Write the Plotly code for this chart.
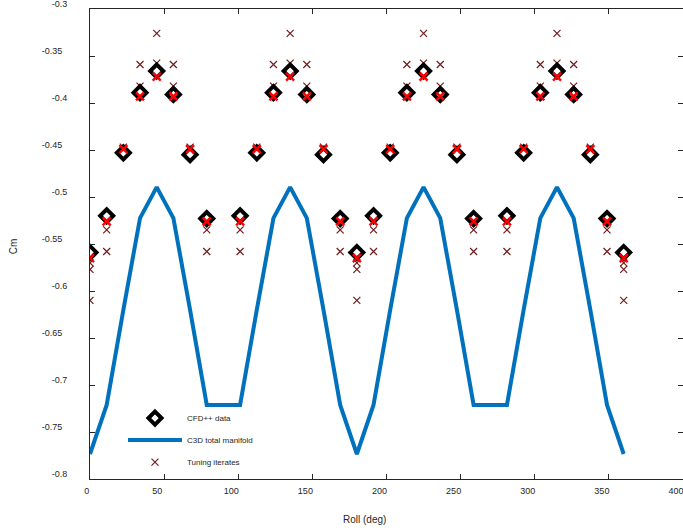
import plotly.graph_objects as go

# ---------------- data ----------------
manifold_roll = [0, 11.25, 22.5, 33.75, 45, 56.25, 67.5, 78.75, 90, 101.25, 112.5, 123.75,
                 135, 146.25, 157.5, 168.75, 180, 191.25, 202.5, 213.75, 225, 236.25, 247.5,
                 258.75, 270, 281.25, 292.5, 303.75, 315, 326.25, 337.5, 348.75, 360]
manifold_cm = [-0.7734, -0.7212, -0.620, -0.5225, -0.4895, -0.5225, -0.620, -0.7212, -0.7212,
               -0.7212, -0.620, -0.5225, -0.4895, -0.5225, -0.620, -0.7212, -0.7734, -0.7212,
               -0.620, -0.5225, -0.4895, -0.5225, -0.620, -0.7212, -0.7212, -0.7212, -0.620,
               -0.5225, -0.4895, -0.5225, -0.620, -0.7212, -0.7734]

cfd_roll = [0, 11.25, 22.5, 33.75, 45, 56.25, 67.5, 78.75, 101.25, 112.5, 123.75, 135, 146.25,
            157.5, 168.75, 180, 191.25, 202.5, 213.75, 225, 236.25, 247.5, 258.75, 281.25,
            292.5, 303.75, 315, 326.25, 337.5, 348.75, 360]
cfd_cm = [-0.559, -0.520, -0.453, -0.389, -0.366, -0.391, -0.455, -0.523, -0.520, -0.453,
          -0.389, -0.366, -0.391, -0.455, -0.523, -0.559, -0.520, -0.453, -0.389, -0.366,
          -0.391, -0.455, -0.523, -0.520, -0.453, -0.389, -0.366, -0.391, -0.455, -0.523, -0.559]

final_cm = [-0.565, -0.526, -0.449, -0.393, -0.372, -0.393, -0.449, -0.526, -0.526, -0.449,
            -0.393, -0.372, -0.393, -0.449, -0.526, -0.565, -0.526, -0.449, -0.393, -0.372,
            -0.393, -0.449, -0.526, -0.526, -0.449, -0.393, -0.372, -0.393, -0.449, -0.526, -0.565]

iter_roll = [0, 0, 0,
             11.25, 11.25, 22.5, 33.75, 33.75, 45, 45, 56.25, 56.25, 67.5, 78.75, 78.75,
             101.25, 101.25, 112.5, 123.75, 123.75, 135, 135, 146.25, 146.25, 157.5, 168.75, 168.75,
             180, 180, 180,
             191.25, 191.25, 202.5, 213.75, 213.75, 225, 225, 236.25, 236.25, 247.5, 258.75, 258.75,
             281.25, 281.25, 292.5, 303.75, 303.75, 315, 315, 326.25, 326.25, 337.5, 348.75, 348.75,
             360, 360, 360]
iter_cm = [-0.570, -0.577, -0.610,
           -0.535, -0.558, -0.447, -0.359, -0.382, -0.326, -0.3575, -0.359, -0.382, -0.447, -0.535, -0.558,
           -0.535, -0.558, -0.447, -0.359, -0.382, -0.326, -0.3575, -0.359, -0.382, -0.447, -0.535, -0.558,
           -0.570, -0.577, -0.610,
           -0.535, -0.558, -0.447, -0.359, -0.382, -0.326, -0.3575, -0.359, -0.382, -0.447, -0.535, -0.558,
           -0.535, -0.558, -0.447, -0.359, -0.382, -0.326, -0.3575, -0.359, -0.382, -0.447, -0.535, -0.558,
           -0.570, -0.577, -0.610]

x_ticks = [0, 50, 100, 150, 200, 250, 300, 350, 400]
x_ticktext = ["\u00a0\u00a0\u00a00", "50", "100", "150", "200", "250", "300", "350", "400"]
y_ticks = [-0.8, -0.75, -0.7, -0.65, -0.6, -0.55, -0.5, -0.45, -0.4, -0.35, -0.3]
y_ticktext = ["-0.8", "-0.75", "-0.7", "-0.65", "-0.6", "-0.55", "-0.5", "-0.45", "-0.4", "-0.35", "-0.3"]

# ---------------- styles ----------------
FONT = "Liberation Sans, Arial, sans-serif"
TXT = "#262626"
BLUE = "#0072BD"
DARKRED = "#701c1c"
RED = "#ff0000"

y_ticktext_padded = [t + "\u00a0\u00a0" if len(t.split(".")[1]) == 2 else t for t in y_ticktext]

fig = go.Figure()

fig.add_trace(go.Scatter(
    x=iter_roll, y=iter_cm, mode="markers", name="Tuning iterates",
    marker=dict(symbol="x-thin", size=7, line=dict(color=DARKRED, width=1.2), color=DARKRED),
    legendrank=3, legendgroup="c"))

fig.add_trace(go.Scatter(
    x=manifold_roll, y=manifold_cm, mode="lines", name="C3D total manifold",
    line=dict(color=BLUE, width=4), legendrank=2, legendgroup="b"))

fig.add_trace(go.Scatter(
    x=cfd_roll, y=cfd_cm, mode="markers", name="CFD++ data",
    marker=dict(symbol="diamond", size=10, color="white", line=dict(color="black", width=4)),
    legendrank=1, legendgroup="a"))

fig.add_trace(go.Scatter(
    x=cfd_roll, y=final_cm, mode="markers", showlegend=False,
    marker=dict(symbol="x-thin", size=8, line=dict(color=RED, width=2.4), color=RED)))

axis_common = dict(
    showgrid=False, zeroline=False, showline=True, linecolor=TXT, linewidth=1,
    mirror="ticks", ticks="inside", ticklen=5, tickwidth=1, tickcolor=TXT,
    tickfont=dict(family=FONT, size=9, color=TXT), automargin=False,
    ticklabeloverflow="allow",
)

fig.update_xaxes(range=[0, 400], tickvals=x_ticks, ticktext=x_ticktext,
                 ticklabelshift=-7, ticklabelstandoff=3, **axis_common)
fig.update_yaxes(range=[-0.8, -0.3], tickvals=y_ticks, ticktext=y_ticktext_padded,
                 ticklabelshift=-5, ticklabelstandoff=20, **axis_common)

fig.update_layout(
    width=683, height=531,
    margin=dict(l=90, r=0, t=9, b=52),
    paper_bgcolor="white", plot_bgcolor="white",
    font=dict(family=FONT, size=9, color=TXT),
    legend=dict(x=0.0556, y=0.1605, xanchor="left", yanchor="top",
                bgcolor="rgba(0,0,0,0)", borderwidth=0,
                font=dict(family=FONT, size=8, color=TXT),
                itemwidth=54, tracegroupgap=3, traceorder="grouped"),
    annotations=[
        dict(text="Roll (deg)", xref="paper", yref="paper", x=0.4637, y=-0.0857,
             xanchor="center", yanchor="middle", showarrow=False,
             font=dict(family=FONT, size=10, color=TXT)),
        dict(text="Cm", xref="paper", yref="paper", x=-0.1293, y=0.4957,
             xanchor="center", yanchor="middle", showarrow=False, textangle=-90,
             font=dict(family=FONT, size=10, color=TXT)),
    ],
)

fig.write_html("out.html")
